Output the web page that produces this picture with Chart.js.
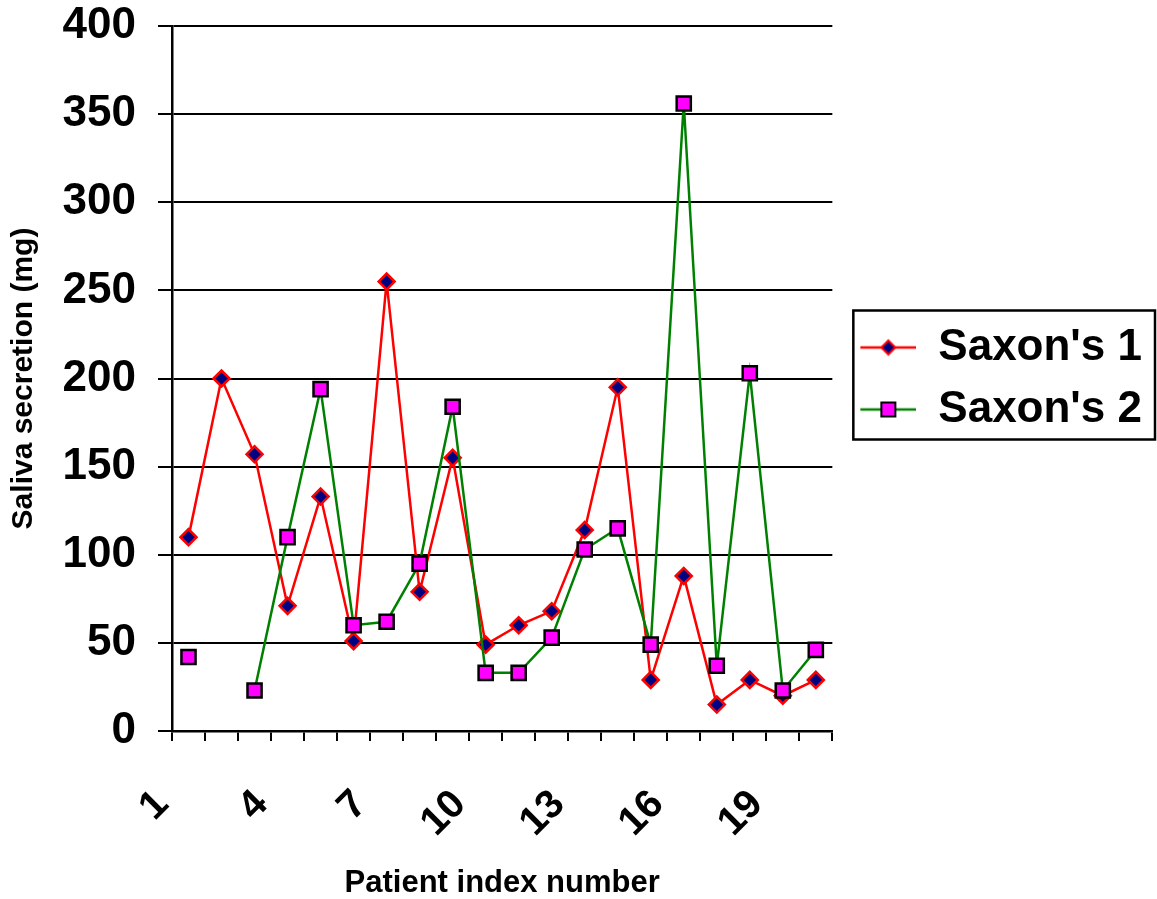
<!DOCTYPE html>
<html>
<head>
<meta charset="utf-8">
<script src="https://cdn.jsdelivr.net/npm/chart.js@4.4.1/dist/chart.umd.min.js"></script>
<style>
  html, body { margin: 0; padding: 0; background: #fff; }
</style>
</head>
<body>
<canvas id="saliva_chart" width="1157" height="899"></canvas>
<script>
// patient index numbers 1..20
const patients = ['1','2','3','4','5','6','7','8','9','10','11','12','13','14','15','16','17','18','19','20'];

const saxon1 = [110, 200, 157, 71, 133, 51, 255, 79, 155, 49,
                60, 68, 114, 195, 29, 88, 15, 29, 20, 29];

// patient 2 has no second measurement
const saxon2 = [42, null, 23, 110, 194, 60, 62, 95, 184, 33,
                33, 53, 103, 115, 49, 356, 37, 203, 23, 46];

const yTicks = [0, 50, 100, 150, 200, 250, 300, 350, 400];

const FONT = "'Liberation Sans', Arial, sans-serif";
Chart.defaults.font.family = FONT;
Chart.defaults.color = '#000';

// little line + marker picture for the legend (blank strip on the left)
function legendSymbol(lineColor, kind) {
    const c = document.createElement('canvas');
    c.width = 66;
    c.height = 22;
    const ctx = c.getContext('2d');
    ctx.strokeStyle = lineColor;
    ctx.lineWidth = 2.5;
    ctx.beginPath();
    ctx.moveTo(10, 11);
    ctx.lineTo(66, 11);
    ctx.stroke();
    if (kind === 'diamond') {
        ctx.beginPath();
        ctx.moveTo(38, 4); ctx.lineTo(45, 11); ctx.lineTo(38, 18); ctx.lineTo(31, 11);
        ctx.closePath();
        ctx.fillStyle = '#000080';
        ctx.fill();
        ctx.strokeStyle = '#FF0000';
        ctx.lineWidth = 2;
        ctx.stroke();
    } else {
        ctx.fillStyle = '#FF00FF';
        ctx.fillRect(31, 4, 14, 14);
        ctx.strokeStyle = '#000';
        ctx.lineWidth = 2;
        ctx.strokeRect(31, 4, 14, 14);
    }
    return c;
}
const symbols = [legendSymbol('#FF0000', 'diamond'), legendSymbol('#008000', 'square')];

// box round the legend entries
const legendFrame = {
    id: 'legendFrame',
    afterDraw(chart) {
        const hb = chart.legend.legendHitBoxes;
        if (!hb || !hb.length) return;
        const first = hb[0];
        const last = hb[hb.length - 1];
        const left = first.left + 3;
        const right = first.left + first.width + 13;
        const top = first.top - 15;
        const bottom = last.top + last.height + 8;
        const ctx = chart.ctx;
        ctx.save();
        ctx.strokeStyle = '#000';
        ctx.lineWidth = 2.5;
        ctx.strokeRect(left, top, right - left, bottom - top);
        ctx.restore();
    }
};

const saliva_chart = new Chart(document.getElementById('saliva_chart'), {
    type: 'line',
    data: {
        labels: patients,
        datasets: [{
            label: "Saxon's 1",
            data: saxon1,
            borderColor: '#FF0000',
            borderWidth: 2.5,
            pointStyle: 'rectRot',
            pointRadius: 8,
            pointBackgroundColor: '#000080',
            pointBorderColor: '#FF0000',
            pointBorderWidth: 2.5,
            tension: 0,
            order: 2,
        }, {
            label: "Saxon's 2",
            data: saxon2,
            borderColor: '#008000',
            borderWidth: 2.5,
            pointStyle: 'rect',
            pointRadius: 10,
            pointBackgroundColor: '#FF00FF',
            pointBorderColor: '#000000',
            pointBorderWidth: 2.5,
            tension: 0,
            spanGaps: false,
            order: 1,
        }]
    },
    options: {
        responsive: false,
        animation: false,
        layout: {
            autoPadding: false,
            padding: { top: 26, right: 5, bottom: 0, left: 0 }
        },
        scales: {
            x: {
                offset: true,
                grid: {
                    offset: true,
                    drawOnChartArea: false,
                    color: '#000',
                    lineWidth: 2,
                    tickLength: 10,
                },
                border: { display: true, color: '#000', width: 2.5 },
                ticks: {
                    autoSkip: false,
                    maxRotation: 45,
                    minRotation: 45,
                    padding: 40,
                    labelOffset: -26,
                    font: { size: 40, weight: 'bold' },
                    callback: function(value, index) {
                        return index % 3 === 0 ? patients[index] : '';
                    }
                },
                title: {
                    display: true,
                    text: 'Patient index number',
                    font: { size: 31, weight: 'bold', lineHeight: 1.0 },
                    padding: { top: 0, bottom: 0 },
                },
                afterFit: function(scale) {
                    scale.height = 168;
                    scale.paddingLeft = 0;
                    scale.paddingRight = 0;
                }
            },
            y: {
                min: 0,
                max: 400,
                afterBuildTicks: function(scale) {
                    scale.ticks = yTicks.map(v => ({ value: v }));
                },
                grid: {
                    color: '#000',
                    lineWidth: 2,
                    tickLength: 14,
                },
                border: { display: true, color: '#000', width: 2.5 },
                ticks: {
                    padding: 22,
                    font: { size: 44, weight: 'bold' },
                },
                title: {
                    display: true,
                    text: 'Saliva secretion (mg)',
                    font: { size: 30, weight: 'bold' },
                    padding: { top: 6, bottom: 0 },
                },
                afterFit: function(scale) {
                    scale.width = 172;
                    scale.paddingTop = 0;
                    scale.paddingBottom = 0;
                }
            }
        },
        plugins: {
            legend: {
                display: true,
                position: 'right',
                fullSize: false,
                maxWidth: 330,
                labels: {
                    usePointStyle: true,
                    pointStyleWidth: 66,
                    padding: 18,
                    color: '#000',
                    font: { size: 44, weight: 'bold' },
                    sort: (a, b) => a.datasetIndex - b.datasetIndex,
                    generateLabels: function(chart) {
                        const items = Chart.defaults.plugins.legend.labels.generateLabels(chart);
                        items.forEach(it => { it.pointStyle = symbols[it.datasetIndex]; });
                        return items;
                    }
                }
            },
            tooltip: { enabled: false }
        }
    },
    plugins: [legendFrame],
});
</script>
</body>
</html>
